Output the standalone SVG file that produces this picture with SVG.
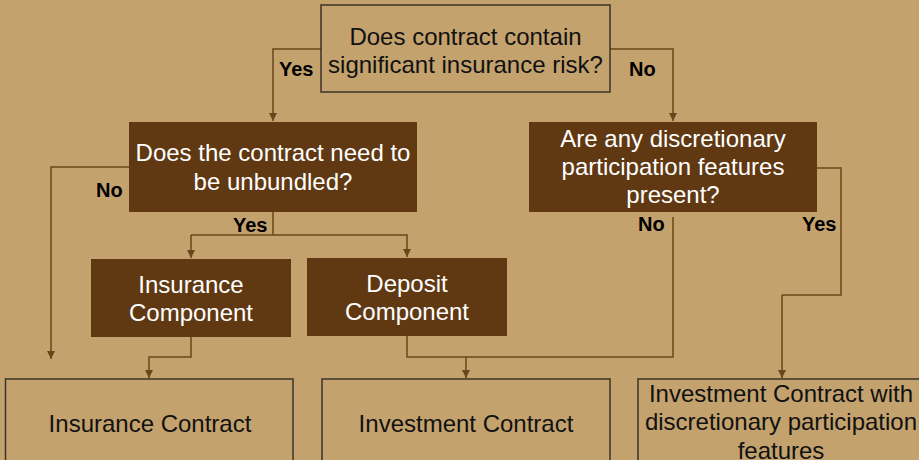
<svg xmlns="http://www.w3.org/2000/svg" width="919" height="460" viewBox="0 0 919 460">
<defs>
<marker id="arr" viewBox="0 0 10 10" refX="10" refY="5" markerWidth="8" markerHeight="8" markerUnits="userSpaceOnUse" orient="auto">
<path d="M0,0 L10,5 L0,10 Z" fill="#6B4519"/>
</marker>
</defs>
<style>
.conn{fill:none;stroke:#6B4519;stroke-width:1.5}
.arrow{marker-end:url(#arr)}
.outline{fill:#C4A26D;stroke:#3A3526;stroke-width:1.5}
.dark{fill:#603913}
.t{font-family:"Liberation Sans",Arial,sans-serif;font-size:24px;text-anchor:middle}
.tb{fill:#111}
.tw{fill:#fff}
.lbl{font-family:"Liberation Sans",Arial,sans-serif;font-size:20px;font-weight:bold;fill:#000}
</style>
<rect x="0" y="0" width="919" height="460" fill="#C4A26D"/>
<g id="connectors">
<path class="conn arrow" d="M321,49 H273 V121"/>
<path class="conn arrow" d="M610,49 H673 V121"/>
<path class="conn arrow" d="M129,167 H51 V359"/>
<path class="conn" d="M273,212 V235"/>
<path class="conn arrow" d="M191,235 V258"/>
<path class="conn arrow" d="M191,235 H407 V257"/>
<path class="conn arrow" d="M191,337 V357 H149 V378"/>
<path class="conn" d="M407,336 V357 H673 V217"/>
<path class="conn arrow" d="M466,357 V378"/>
<path class="conn" d="M817,168 H841 V295 H782"/>
<path class="conn arrow" d="M782,295 V378"/>
</g>
<g id="labels">
<text class="lbl" x="279" y="76">Yes</text>
<text class="lbl" x="629" y="76">No</text>
<text class="lbl" x="96" y="197">No</text>
<text class="lbl" x="233" y="232">Yes</text>
<text class="lbl" x="638" y="231">No</text>
<text class="lbl" x="802" y="231">Yes</text>
</g>
<g id="q-risk">
<rect class="outline" x="321" y="5" width="289" height="87"/>
<text class="t tb" x="465.5" y="45">Does contract contain</text>
<text class="t tb" x="465.5" y="73">significant insurance risk?</text>
</g>
<g id="q-unbundle">
<rect class="dark" x="129" y="122" width="288" height="90"/>
<text class="t tw" x="273" y="161">Does the contract need to</text>
<text class="t tw" x="273" y="190">be unbundled?</text>
</g>
<g id="q-dpf">
<rect class="dark" x="529" y="122" width="288" height="90"/>
<text class="t tw" x="673" y="147">Are any discretionary</text>
<text class="t tw" x="673" y="175">participation features</text>
<text class="t tw" x="673" y="203">present?</text>
</g>
<g id="insurance-component">
<rect class="dark" x="91" y="259" width="200" height="78"/>
<text class="t tw" x="191" y="293">Insurance</text>
<text class="t tw" x="191" y="321">Component</text>
</g>
<g id="deposit-component">
<rect class="dark" x="307" y="258" width="200" height="78"/>
<text class="t tw" x="407" y="292">Deposit</text>
<text class="t tw" x="407" y="320">Component</text>
</g>
<g id="insurance-contract">
<rect class="outline" x="5.5" y="379" width="287.5" height="90"/>
<text class="t tb" x="150" y="432">Insurance Contract</text>
</g>
<g id="investment-contract">
<rect class="outline" x="322" y="379" width="288" height="90"/>
<text class="t tb" x="466" y="432">Investment Contract</text>
</g>
<g id="investment-dpf">
<rect class="outline" x="638" y="379" width="290" height="90"/>
<text class="t tb" x="781" y="402">Investment Contract with</text>
<text class="t tb" x="781" y="430">discretionary participation</text>
<text class="t tb" x="781" y="459">features</text>
</g>
</svg>
